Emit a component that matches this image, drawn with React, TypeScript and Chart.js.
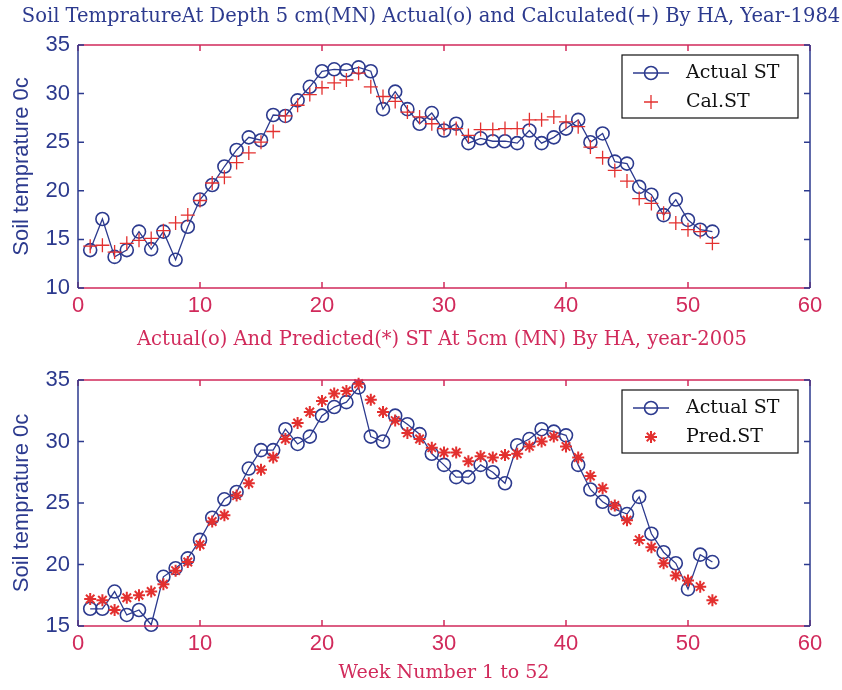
import React, { useEffect, useRef } from 'react';
import { Chart, registerables } from 'chart.js';
import { drawPoint } from 'chart.js/helpers';

Chart.register(...registerables);

// ---------- data ----------
const weeks = [
  1, 2, 3, 4, 5, 6, 7, 8, 9, 10, 11, 12, 13, 14, 15, 16, 17, 18, 19, 20, 21, 22, 23, 24, 25, 26,
  27, 28, 29, 30, 31, 32, 33, 34, 35, 36, 37, 38, 39, 40, 41, 42, 43, 44, 45, 46, 47, 48, 49, 50, 51, 52,
];

const actual1984 = [
  13.9, 17.1, 13.2, 13.9, 15.8, 14.0, 15.8, 12.9, 16.3, 19.1, 20.6, 22.5, 24.2, 25.5, 25.2, 27.8,
  27.7, 29.3, 30.7, 32.3, 32.5, 32.4, 32.7, 32.3, 28.4, 30.2, 28.4, 26.9, 28.0, 26.2, 26.9, 24.9,
  25.4, 25.1, 25.1, 24.9, 26.2, 24.9, 25.5, 26.4, 27.3, 25.0, 25.9, 23.0, 22.8, 20.4, 19.6, 17.5,
  19.1, 17.0, 16.0, 15.8,
];

const calculated1984 = [
  14.3, 14.4, 13.7, 14.6, 14.9, 15.1, 15.9, 16.7, 17.5, 19.0, 20.8, 21.4, 22.9, 23.9, 25.0, 26.1,
  27.7, 28.8, 29.9, 30.6, 31.1, 31.4, 32.1, 30.7, 29.7, 29.2, 28.1, 27.6, 26.9, 26.4, 26.4, 25.7,
  26.3, 26.3, 26.4, 26.4, 27.3, 27.3, 27.6, 27.1, 26.6, 24.5, 23.4, 22.1, 21.0, 19.2, 18.7, 17.7,
  16.7, 16.0, 15.8, 14.6,
];

const actual2005 = [
  16.4, 16.4, 17.8, 15.9, 16.3, 15.1, 19.0, 19.7, 20.5, 22.0, 23.8, 25.3, 25.9, 27.8, 29.3, 29.3,
  31.0, 29.8, 30.4, 32.1, 32.8, 33.2, 34.4, 30.4, 30.0, 32.1, 31.4, 30.6, 29.0, 28.1, 27.1, 27.1,
  28.1, 27.5, 26.6, 29.7, 30.2, 31.0, 30.8, 30.5, 28.1, 26.1, 25.1, 24.5, 24.1, 25.5, 22.5, 21.0,
  20.1, 18.0, 20.8, 20.2,
];

const predicted2005 = [
  17.2, 17.1, 16.3, 17.3, 17.5, 17.8, 18.4, 19.5, 20.2, 21.6, 23.5, 24.0, 25.6, 26.6, 27.7, 28.7,
  30.2, 31.5, 32.4, 33.3, 33.9, 34.1, 34.7, 33.4, 32.4, 31.7, 30.7, 30.2, 29.5, 29.1, 29.1, 28.4,
  28.8, 28.7, 28.9, 29.0, 29.6, 30.0, 30.4, 29.6, 28.7, 27.2, 26.2, 24.8, 23.6, 22.0, 21.4, 20.1,
  19.1, 18.7, 18.2, 17.1,
];

const xTickValues = [0, 10, 20, 30, 40, 50, 60];
const yTicksTop = [10, 15, 20, 25, 30, 35];
const yTicksBottom = [15, 20, 25, 30, 35];

const topTitle = 'Soil TempratureAt Depth 5 cm(MN) Actual(o) and Calculated(+) By HA, Year-1984';
const bottomTitle = 'Actual(o) And Predicted(*) ST At 5cm (MN) By HA, year-2005';
const yAxisTitle = 'Soil temprature 0c';
const xAxisTitle = 'Week Number 1 to 52';

// ---------- styles ----------
const NAVY = '#2c3a8e';
const CRIMSON = '#d12a5b';
const RED = '#e3302f';
const SERIF = "'DejaVu Serif', 'Liberation Serif', serif";
const NARROW = "'Liberation Sans Narrow', 'Liberation Sans', Arial, sans-serif";
const SANS = "'Liberation Sans', Arial, sans-serif";

const framePlugin = {
  id: 'frameAndLegend',
  afterDraw(chart: any, _args: any, opts: any) {
    const { ctx, chartArea: a, scales } = chart;
    const xs = scales.x;
    const ys = scales.y;
    ctx.save();
    // title
    ctx.fillStyle = opts.titleColor;
    ctx.font = `19.5px ${SERIF}`;
    ctx.textAlign = 'center';
    ctx.textBaseline = 'middle';
    ctx.fillText(opts.title, opts.titleX, opts.titleY);

    // x edges + ticks
    ctx.lineWidth = 1.5;
    ctx.strokeStyle = CRIMSON;
    ctx.beginPath();
    ctx.moveTo(a.left, a.top);
    ctx.lineTo(a.right, a.top);
    ctx.moveTo(a.left, a.bottom);
    ctx.lineTo(a.right, a.bottom);
    for (const t of xs.ticks) {
      const px = xs.getPixelForValue(t.value);
      ctx.moveTo(px, a.bottom);
      ctx.lineTo(px, a.bottom - 6);
      ctx.moveTo(px, a.top);
      ctx.lineTo(px, a.top + 6);
    }
    ctx.stroke();
    // y edges + ticks
    ctx.strokeStyle = NAVY;
    ctx.beginPath();
    ctx.moveTo(a.left, a.top);
    ctx.lineTo(a.left, a.bottom);
    ctx.moveTo(a.right, a.top);
    ctx.lineTo(a.right, a.bottom);
    for (const t of ys.ticks) {
      const py = ys.getPixelForValue(t.value);
      ctx.moveTo(a.left, py);
      ctx.lineTo(a.left + 6, py);
      ctx.moveTo(a.right, py);
      ctx.lineTo(a.right - 6, py);
    }
    ctx.stroke();

    // legend box
    const bw = 176;
    const bh = 63;
    const bx = a.right - 12 - bw;
    const by = a.top + 10;
    ctx.fillStyle = '#ffffff';
    ctx.fillRect(bx, by, bw, bh);
    ctx.strokeStyle = '#111111';
    ctx.lineWidth = 1.2;
    ctx.strokeRect(bx, by, bw, bh);
    chart.data.datasets.forEach((ds: any, i: number) => {
      const cy = by + 18 + i * 29;
      const cx = bx + 29;
      ctx.strokeStyle = ds.borderColor;
      ctx.fillStyle = ds.borderColor;
      if (ds.showLine !== false) {
        ctx.lineWidth = ds.borderWidth;
        ctx.beginPath();
        ctx.moveTo(cx - 18, cy);
        ctx.lineTo(cx + 18, cy);
        ctx.stroke();
      }
      ctx.lineWidth = ds.pointBorderWidth;
      ctx.fillStyle = ds.pointBackgroundColor;
      drawPoint(ctx, { pointStyle: ds.pointStyle, radius: ds.pointRadius, borderWidth: ds.pointBorderWidth, rotation: 0 }, cx, cy);
      ctx.fillStyle = '#111111';
      ctx.font = `19px ${SERIF}`;
      ctx.textAlign = 'left';
      ctx.textBaseline = 'middle';
      ctx.fillText(ds.label, bx + 64, cy);
    });
    ctx.restore();
  },
};

type Cfg = {
  height: number;
  padTop: number;
  title: string;
  titleColor: string;
  titleX: number;
  titleY: number;
  actual: number[];
  other: number[];
  otherLabel: string;
  otherStyle: string;
  otherRadius: number;
  otherWidth: number;
  yMin: number;
  yMax: number;
  yTicks: number[];
  xAxisHeight: number;
  xTitle?: string;
};

function buildConfig(c: Cfg): any {
  const toPts = (vals: number[]) => weeks.map((w, i) => ({ x: w, y: vals[i] }));
  return {
    type: 'line',
    data: {
      datasets: [
        {
          label: 'Actual ST',
          data: toPts(c.actual),
          borderColor: NAVY,
          borderWidth: 1.3,
          pointStyle: 'circle',
          pointRadius: 6.5,
          pointBorderWidth: 1.6,
          pointBackgroundColor: 'rgba(255,255,255,0)',
          pointBorderColor: NAVY,
          tension: 0,
          clip: false,
          order: 1,
        },
        {
          label: c.otherLabel,
          data: toPts(c.other),
          borderColor: RED,
          showLine: false,
          pointStyle: c.otherStyle,
          pointRadius: c.otherRadius,
          pointBorderWidth: c.otherWidth,
          pointBackgroundColor: RED,
          pointBorderColor: RED,
          clip: false,
          order: 0,
        },
      ],
    },
    options: {
      responsive: false,
      animation: false,
      layout: { padding: { top: c.padTop, right: 32, left: 0, bottom: 0 } },
      plugins: {
        legend: { display: false },
        tooltip: { enabled: false },
        title: { display: false },
        frameAndLegend: { title: c.title, titleColor: c.titleColor, titleX: c.titleX, titleY: c.titleY },
      },
      scales: {
        x: {
          type: 'linear',
          min: 0,
          max: 60,
          afterBuildTicks: (s: any) => {
            s.ticks = xTickValues.map((v) => ({ value: v }));
          },
          afterFit: (s: any) => {
            s.height = c.xAxisHeight;
          },
          grid: { display: false, drawTicks: false },
          border: { display: false },
          ticks: {
            color: CRIMSON,
            font: { family: NARROW, size: 22, lineHeight: 1 },
            padding: 7,
            maxRotation: 0,
            autoSkip: false,
          },
          title: c.xTitle
            ? {
                display: true,
                text: c.xTitle,
                color: CRIMSON,
                font: { family: SERIF, size: 19, lineHeight: 1.2 },
                padding: { top: 0, bottom: 6 },
              }
            : { display: false },
        },
        y: {
          type: 'linear',
          min: c.yMin,
          max: c.yMax,
          afterBuildTicks: (s: any) => {
            s.ticks = c.yTicks.map((v) => ({ value: v }));
          },
          afterFit: (s: any) => {
            s.width = 78;
          },
          grid: { display: false, drawTicks: false },
          border: { display: false },
          ticks: {
            color: NAVY,
            font: { family: NARROW, size: 22, lineHeight: 1 },
            padding: 8,
            autoSkip: false,
          },
          title: {
            display: true,
            text: yAxisTitle,
            color: NAVY,
            font: { family: SANS, size: 22, lineHeight: 1.2 },
            padding: { top: 9, bottom: 0 },
          },
        },
      },
    },
    plugins: [framePlugin],
  };
}

function ChartPanel({ cfg, top }: { cfg: Cfg; top: number }) {
  const ref = useRef<HTMLCanvasElement>(null);
  useEffect(() => {
    const chart = new Chart(ref.current as HTMLCanvasElement, buildConfig(cfg));
    return () => chart.destroy();
  }, []);
  return (
    <div style={{ position: 'absolute', left: 0, top, width: 842, height: cfg.height }}>
      <canvas ref={ref} width={842} height={cfg.height} style={{ display: 'block' }} />
    </div>
  );
}

const topCfg: Cfg = {
  height: 320,
  padTop: 45,
  title: topTitle,
  titleColor: NAVY,
  titleX: 431,
  titleY: 17,
  actual: actual1984,
  other: calculated1984,
  otherLabel: 'Cal.ST',
  otherStyle: 'cross',
  otherRadius: 7,
  otherWidth: 1.3,
  yMin: 10,
  yMax: 35,
  yTicks: yTicksTop,
  xAxisHeight: 32,
};

const bottomCfg: Cfg = {
  height: 370,
  padTop: 60,
  title: bottomTitle,
  titleColor: CRIMSON,
  titleX: 442,
  titleY: 20,
  actual: actual2005,
  other: predicted2005,
  otherLabel: 'Pred.ST',
  otherStyle: 'star',
  otherRadius: 6,
  otherWidth: 2,
  yMin: 15,
  yMax: 35,
  yTicks: yTicksBottom,
  xAxisHeight: 64,
  xTitle: xAxisTitle,
};

export default function App() {
  return (
    <div style={{ position: 'absolute', left: 0, top: 0, width: 842, height: 690, background: '#ffffff' }}>
      <ChartPanel cfg={topCfg} top={0} />
      <ChartPanel cfg={bottomCfg} top={320} />
    </div>
  );
}
